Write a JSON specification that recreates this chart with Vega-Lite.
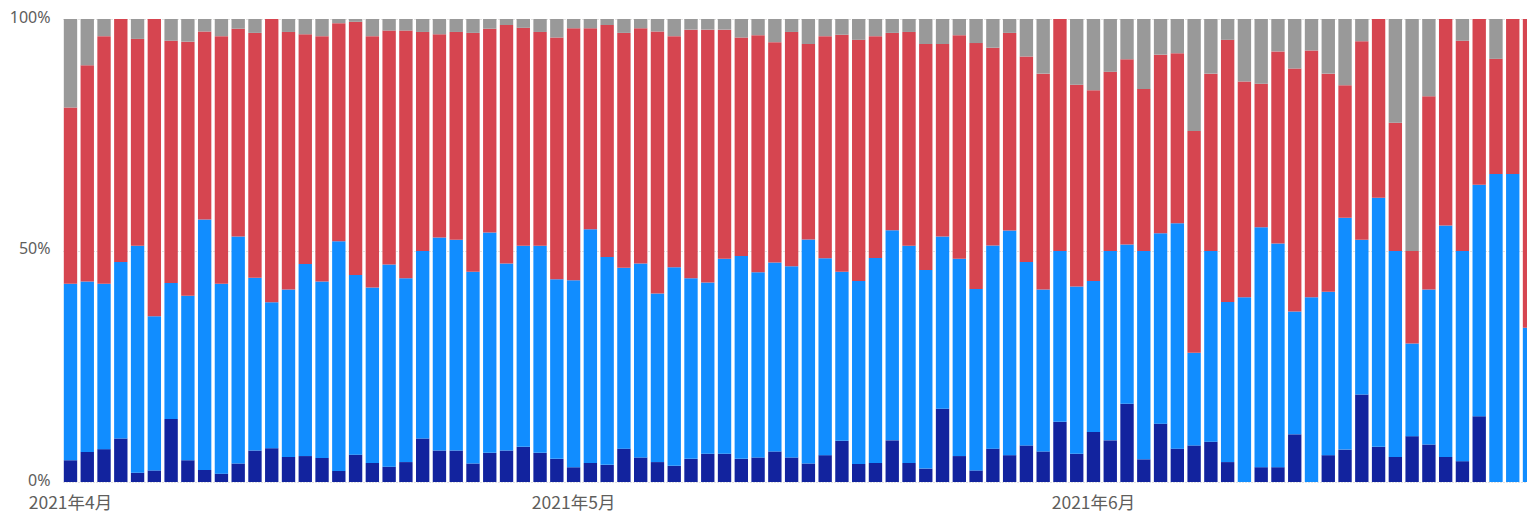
{
  "$schema": "https://vega.github.io/schema/vega-lite/v6.json",
  "width": 1464,
  "height": 463,
  "autosize": {"type": "none"},
  "padding": {"left": 63, "top": 19, "right": 0, "bottom": 30},
  "background": "white",
  "config": {"view": {"stroke": null}, "font": "Noto Sans CJK JP"},
  "data": {"values": [
    {"d":"2021-04-01","A":4.7,"B":38.1,"C":38.1,"D":19.1},
    {"d":"2021-04-02","A":6.5,"B":36.8,"C":46.7,"D":10.0},
    {"d":"2021-04-03","A":7.1,"B":35.7,"C":53.5,"D":3.7},
    {"d":"2021-04-04","A":9.4,"B":38.1,"C":52.5,"D":0},
    {"d":"2021-04-05","A":2.0,"B":49.0,"C":44.7,"D":4.3},
    {"d":"2021-04-06","A":2.5,"B":33.3,"C":64.2,"D":0},
    {"d":"2021-04-07","A":13.6,"B":29.4,"C":52.3,"D":4.7},
    {"d":"2021-04-08","A":4.7,"B":35.5,"C":54.9,"D":4.9},
    {"d":"2021-04-09","A":2.6,"B":54.1,"C":40.6,"D":2.7},
    {"d":"2021-04-10","A":1.8,"B":41.0,"C":53.5,"D":3.7},
    {"d":"2021-04-11","A":4.0,"B":49.0,"C":44.9,"D":2.1},
    {"d":"2021-04-12","A":6.8,"B":37.3,"C":52.9,"D":3.0},
    {"d":"2021-04-13","A":7.3,"B":31.5,"C":61.2,"D":0},
    {"d":"2021-04-14","A":5.4,"B":36.2,"C":55.6,"D":2.8},
    {"d":"2021-04-15","A":5.6,"B":41.5,"C":49.6,"D":3.3},
    {"d":"2021-04-16","A":5.2,"B":38.1,"C":53.0,"D":3.7},
    {"d":"2021-04-17","A":2.4,"B":49.6,"C":47.1,"D":0.9},
    {"d":"2021-04-18","A":5.9,"B":38.8,"C":54.7,"D":0.6},
    {"d":"2021-04-19","A":4.1,"B":37.9,"C":54.3,"D":3.7},
    {"d":"2021-04-20","A":3.3,"B":43.7,"C":50.5,"D":2.5},
    {"d":"2021-04-21","A":4.3,"B":39.7,"C":53.5,"D":2.5},
    {"d":"2021-04-22","A":9.4,"B":40.5,"C":47.3,"D":2.8},
    {"d":"2021-04-23","A":6.8,"B":46.0,"C":43.9,"D":3.3},
    {"d":"2021-04-24","A":6.8,"B":45.5,"C":44.9,"D":2.8},
    {"d":"2021-04-25","A":4.0,"B":41.4,"C":51.6,"D":3.0},
    {"d":"2021-04-26","A":6.3,"B":47.6,"C":44.0,"D":2.1},
    {"d":"2021-04-27","A":6.8,"B":40.4,"C":51.5,"D":1.3},
    {"d":"2021-04-28","A":7.6,"B":43.4,"C":47.1,"D":1.9},
    {"d":"2021-04-29","A":6.3,"B":44.7,"C":46.2,"D":2.8},
    {"d":"2021-04-30","A":5.0,"B":38.8,"C":52.2,"D":4.0},
    {"d":"2021-05-01","A":3.2,"B":40.4,"C":54.4,"D":2.0},
    {"d":"2021-05-02","A":4.1,"B":50.5,"C":43.4,"D":2.0},
    {"d":"2021-05-03","A":3.7,"B":44.9,"C":50.1,"D":1.3},
    {"d":"2021-05-04","A":7.2,"B":39.1,"C":50.7,"D":3.0},
    {"d":"2021-05-05","A":5.3,"B":41.9,"C":50.8,"D":2.0},
    {"d":"2021-05-06","A":4.3,"B":36.4,"C":56.6,"D":2.7},
    {"d":"2021-05-07","A":3.5,"B":42.9,"C":49.9,"D":3.7},
    {"d":"2021-05-08","A":5.0,"B":39.0,"C":53.7,"D":2.3},
    {"d":"2021-05-09","A":6.1,"B":37.0,"C":54.6,"D":2.3},
    {"d":"2021-05-10","A":6.1,"B":42.1,"C":49.5,"D":2.3},
    {"d":"2021-05-11","A":5.0,"B":43.8,"C":47.2,"D":4.0},
    {"d":"2021-05-12","A":5.3,"B":40.0,"C":51.2,"D":3.5},
    {"d":"2021-05-13","A":6.6,"B":40.8,"C":47.6,"D":5.0},
    {"d":"2021-05-14","A":5.3,"B":41.3,"C":50.6,"D":2.8},
    {"d":"2021-05-15","A":4.0,"B":48.4,"C":42.2,"D":5.4},
    {"d":"2021-05-16","A":5.8,"B":42.5,"C":48.0,"D":3.7},
    {"d":"2021-05-17","A":8.9,"B":36.5,"C":51.2,"D":3.4},
    {"d":"2021-05-18","A":3.9,"B":39.5,"C":52.1,"D":4.5},
    {"d":"2021-05-19","A":4.1,"B":44.3,"C":47.9,"D":3.7},
    {"d":"2021-05-20","A":9.0,"B":45.4,"C":42.6,"D":3.0},
    {"d":"2021-05-21","A":4.1,"B":46.9,"C":46.2,"D":2.8},
    {"d":"2021-05-22","A":2.9,"B":42.9,"C":48.8,"D":5.4},
    {"d":"2021-05-23","A":15.8,"B":37.2,"C":41.6,"D":5.4},
    {"d":"2021-05-24","A":5.6,"B":42.6,"C":48.3,"D":3.5},
    {"d":"2021-05-25","A":2.5,"B":39.2,"C":53.1,"D":5.2},
    {"d":"2021-05-26","A":7.2,"B":43.9,"C":42.7,"D":6.2},
    {"d":"2021-05-27","A":5.8,"B":48.5,"C":42.7,"D":3.0},
    {"d":"2021-05-28","A":7.9,"B":39.6,"C":44.4,"D":8.1},
    {"d":"2021-05-29","A":6.6,"B":35.0,"C":46.6,"D":11.8},
    {"d":"2021-05-30","A":13.0,"B":36.9,"C":50.1,"D":0},
    {"d":"2021-05-31","A":6.1,"B":36.1,"C":43.6,"D":14.2},
    {"d":"2021-06-01","A":10.8,"B":32.6,"C":41.2,"D":15.4},
    {"d":"2021-06-02","A":9.0,"B":40.9,"C":38.7,"D":11.4},
    {"d":"2021-06-03","A":16.9,"B":34.4,"C":40.0,"D":8.7},
    {"d":"2021-06-04","A":4.9,"B":45.0,"C":35.0,"D":15.1},
    {"d":"2021-06-05","A":12.6,"B":41.1,"C":38.6,"D":7.7},
    {"d":"2021-06-06","A":7.2,"B":48.7,"C":36.7,"D":7.4},
    {"d":"2021-06-07","A":7.9,"B":20.0,"C":47.9,"D":24.2},
    {"d":"2021-06-08","A":8.7,"B":41.2,"C":38.3,"D":11.8},
    {"d":"2021-06-09","A":4.3,"B":34.6,"C":56.6,"D":4.5},
    {"d":"2021-06-10","A":0,"B":39.9,"C":46.6,"D":13.5},
    {"d":"2021-06-11","A":3.2,"B":51.8,"C":31.0,"D":14.0},
    {"d":"2021-06-12","A":3.2,"B":48.3,"C":41.5,"D":7.0},
    {"d":"2021-06-13","A":10.3,"B":26.5,"C":52.5,"D":10.7},
    {"d":"2021-06-14","A":0,"B":39.9,"C":53.3,"D":6.8},
    {"d":"2021-06-15","A":5.8,"B":35.3,"C":47.1,"D":11.8},
    {"d":"2021-06-16","A":7.0,"B":50.1,"C":28.6,"D":14.3},
    {"d":"2021-06-17","A":18.9,"B":33.4,"C":42.9,"D":4.8},
    {"d":"2021-06-18","A":7.6,"B":53.8,"C":38.6,"D":0},
    {"d":"2021-06-19","A":5.4,"B":44.5,"C":27.7,"D":22.4},
    {"d":"2021-06-20","A":9.9,"B":20.0,"C":20.0,"D":50.1},
    {"d":"2021-06-21","A":8.1,"B":33.5,"C":41.7,"D":16.7},
    {"d":"2021-06-22","A":5.4,"B":50.0,"C":44.6,"D":0},
    {"d":"2021-06-23","A":4.5,"B":45.4,"C":45.4,"D":4.7},
    {"d":"2021-06-24","A":14.2,"B":50.0,"C":35.8,"D":0},
    {"d":"2021-06-25","A":0,"B":66.5,"C":24.9,"D":8.6},
    {"d":"2021-06-26","A":0,"B":66.5,"C":33.5,"D":0},
    {"d":"2021-06-27","A":0,"B":33.3,"C":66.7,"D":0}
  ]},
  "transform": [{"fold": ["A", "B", "C", "D"], "as": ["series", "pct"]}],
  "mark": {"type": "bar", "clip": true, "binSpacing": 3.4},
  "encoding": {
    "x": {
      "field": "d",
      "type": "temporal",
      "timeUnit": "utcyearmonthdate",
      "scale": {"domain": [
        {"year": 2021, "month": 4, "date": 1, "hours": 2, "utc": true},
        {"year": 2021, "month": 6, "date": 27, "hours": 9, "minutes": 7, "utc": true}
      ]},
      "axis": {
        "values": [
          {"year": 2021, "month": 4, "date": 1, "hours": 12, "utc": true},
          {"year": 2021, "month": 5, "date": 1, "hours": 12, "utc": true},
          {"year": 2021, "month": 6, "date": 1, "hours": 12, "utc": true}
        ],
        "labelExpr": "utcFormat(datum.value, '%Y年%-m月')",
        "title": null,
        "grid": false,
        "ticks": false,
        "domain": false,
        "labelFlush": false,
        "labelOverlap": false,
        "labelPadding": 12,
        "labelFontSize": 17.5,
        "labelColor": "#605E5C",
        "labelAlign": "center",
        "labelBaseline": "top"
      }
    },
    "y": {
      "field": "pct",
      "type": "quantitative",
      "stack": "zero",
      "scale": {"domain": [0, 100], "nice": false},
      "axis": {
        "values": [0, 50, 100],
        "labelExpr": "datum.value + '%'",
        "title": null,
        "ticks": false,
        "domain": false,
        "grid": true,
        "gridColor": "#C8C6C4",
        "gridDash": [1, 2],
        "labelPadding": 13,
        "labelOffset": -2,
        "labelFont": "Noto Sans",
        "labelFontSize": 16,
        "labelColor": "#605E5C"
      }
    },
    "color": {
      "field": "series",
      "type": "nominal",
      "scale": {"domain": ["A", "B", "C", "D"], "range": ["#12239E", "#118DFF", "#D64550", "#999999"]},
      "legend": null
    },
    "order": {"field": "series", "sort": "ascending"}
  }
}
